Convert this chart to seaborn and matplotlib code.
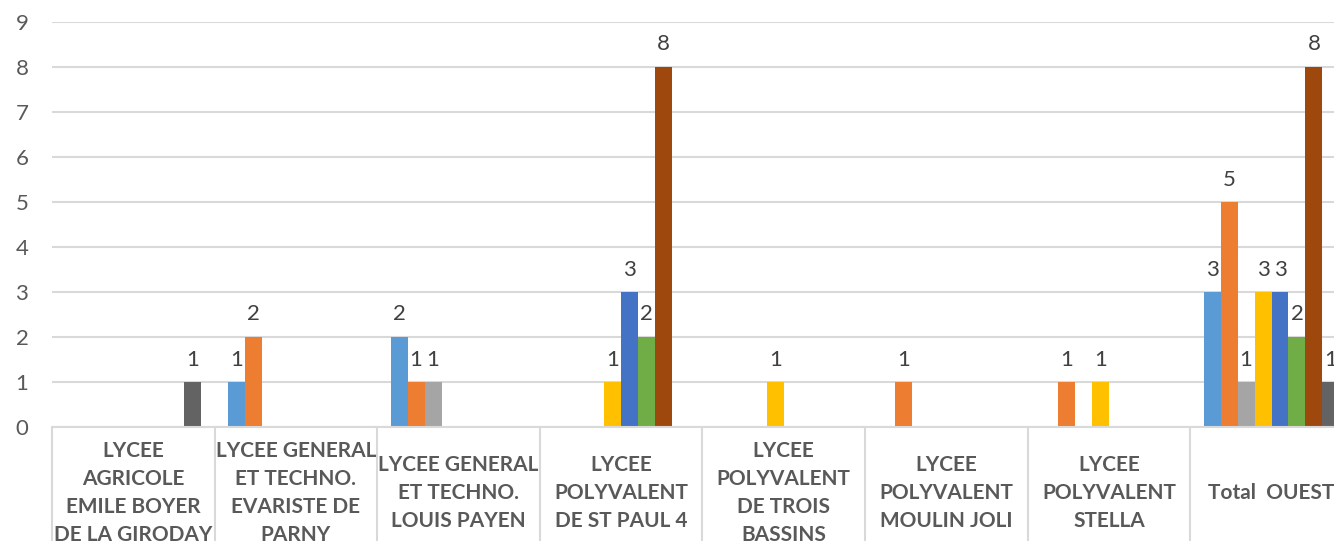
import matplotlib
matplotlib.use("Agg")
import matplotlib.pyplot as plt
import matplotlib.transforms as mtransforms
import numpy as np
import pandas as pd
import seaborn as sns

categories = [
    "LYCEE\nAGRICOLE\nEMILE BOYER\nDE LA GIRODAY",
    "LYCEE GENERAL\nET TECHNO.\nEVARISTE DE\nPARNY",
    "LYCEE GENERAL\nET TECHNO.\nLOUIS PAYEN",
    "LYCEE\nPOLYVALENT\nDE ST PAUL 4",
    "LYCEE\nPOLYVALENT\nDE TROIS\nBASSINS",
    "LYCEE\nPOLYVALENT\nMOULIN JOLI",
    "LYCEE\nPOLYVALENT\nSTELLA",
    "Total  OUEST",
]
series_names = ["S1", "S2", "S3", "S4", "S5", "S6", "S7", "S8"]
s1 = [None, 1, 2, None, None, None, None, 3]
s2 = [None, 2, 1, None, None, 1, 1, 5]
s3 = [None, None, 1, None, None, None, None, 1]
s4 = [None, None, None, 1, 1, None, 1, 3]
s5 = [None, None, None, 3, None, None, None, 3]
s6 = [None, None, None, 2, None, None, None, 2]
s7 = [None, None, None, 8, None, None, None, 8]
s8 = [1, None, None, None, None, None, None, 1]
series_values = [s1, s2, s3, s4, s5, s6, s7, s8]
colors = ["#5B9BD5", "#ED7D31", "#A5A5A5", "#FFC000", "#4472C4", "#70AD47", "#9E480E", "#636363"]
yticks = list(range(0, 10))

rows = []
for name, vals in zip(series_names, series_values):
    for cat, v in zip(categories, vals):
        if v is not None:
            rows.append({"cat": cat, "series": name, "val": v})
df = pd.DataFrame(rows)

sns.set_theme(style="white")
plt.rcParams["font.family"] = ["Lato", "DejaVu Sans"]

W, H = 1334, 541
fig = plt.figure(figsize=(W / 100, H / 100), dpi=100)
ax_left, ax_bottom_px, ax_top_px = 52, 427, 22
cat_w = 162.6
ax = fig.add_axes([ax_left / W, (H - ax_bottom_px) / H, 8 * cat_w / W, (ax_bottom_px - ax_top_px) / H])

sns.barplot(data=df, x="cat", y="val", hue="series", order=categories,
            hue_order=series_names, palette=colors, width=0.836,
            errorbar=None, saturation=1, legend=False, ax=ax, linewidth=0)

ax.set_xlim(-0.5, len(categories) - 0.5)
ax.set_ylim(0, 9)
ax.set_yticks(yticks)
ax.set_yticklabels([str(t) for t in yticks])
ax.yaxis.grid(True, color="#D9D9D9", linewidth=1.5)
ax.set_axisbelow(True)
for sp in ["top", "right", "left"]:
    ax.spines[sp].set_visible(False)
ax.spines["bottom"].set_color("#D9D9D9")
ax.spines["bottom"].set_linewidth(1.5)
ax.tick_params(axis="y", length=0, pad=17, labelsize=16, labelcolor="#595959")
ax.tick_params(axis="x", length=0)
ax.set_xticklabels([])
ax.set_xlabel("")
ax.set_ylabel("")

for cont in ax.containers:
    ax.bar_label(cont, padding=9, fontsize=16, color="#404040")

trans = mtransforms.blended_transform_factory(ax.transData, ax.transAxes)
for i in range(len(categories) + 1):
    ax.plot([i - 0.5, i - 0.5], [0, -0.5], transform=trans, color="#D9D9D9",
            linewidth=1.5, clip_on=False)
for i, cat in enumerate(categories):
    ax.text(i, -0.162, cat, transform=trans, ha="center", va="center",
            fontsize=15, fontweight="bold", color="#595959", linespacing=1.5)

fig.savefig("out.png", dpi=100)
